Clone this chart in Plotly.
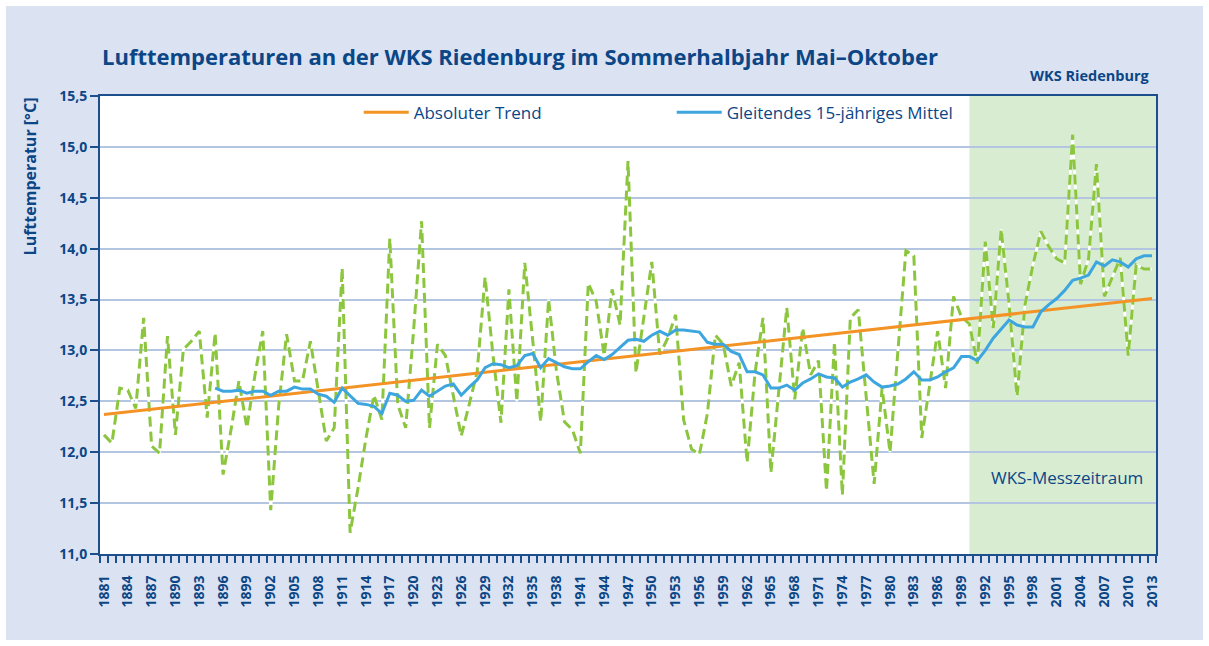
import plotly.graph_objects as go

# Jahreswerte Sommerhalbjahr (Mai–Oktober), Lufttemperatur in °C
years = list(range(1881, 2014))
jahreswerte = [
    12.17, 12.09, 12.63, 12.61, 12.43, 13.32, 12.06, 11.99, 13.14, 12.17,  # 1881-1890
    13.01, 13.09, 13.19, 12.34, 13.17, 11.78, 12.22, 12.70, 12.24, 12.75,  # 1891-1900
    13.19, 11.43, 12.45, 13.16, 12.70, 12.70, 13.09, 12.60, 12.11, 12.24,  # 1901-1910
    13.81, 11.21, 11.65, 12.14, 12.56, 12.32, 14.10, 12.47, 12.24, 13.20,  # 1911-1920
    14.27, 12.24, 13.06, 12.95, 12.56, 12.16, 12.47, 12.79, 13.72, 12.95,  # 1921-1930
    12.29, 13.60, 12.50, 13.86, 13.10, 12.30, 13.50, 12.79, 12.30, 12.22,  # 1931-1940
    11.99, 13.66, 13.48, 12.95, 13.60, 13.25, 14.86, 12.78, 13.33, 13.87,  # 1941-1950
    12.96, 13.12, 13.35, 12.32, 12.03, 11.98, 12.38, 13.15, 13.06, 12.65,  # 1951-1960
    12.88, 11.90, 12.78, 13.32, 11.80, 12.65, 13.42, 12.52, 13.22, 12.76,  # 1961-1970
    12.90, 11.62, 13.08, 11.58, 13.32, 13.40, 12.53, 11.69, 12.63, 12.00,  # 1971-1980
    13.00, 13.98, 13.93, 12.14, 12.66, 13.19, 12.63, 13.53, 13.33, 13.26,  # 1981-1990
    12.87, 14.07, 13.22, 14.19, 13.45, 12.55, 13.45, 13.84, 14.17, 14.02,  # 1991-2000
    13.90, 13.86, 15.12, 13.65, 13.90, 14.83, 13.53, 13.73, 13.91, 12.95,  # 2001-2010
    13.84, 13.80, 13.80,                                                    # 2011-2013
]

# Gleitendes 15-jähriges Mittel (ab 1895)
mittel_years = list(range(1895, 2014))
mittel15 = [
    12.63, 12.60, 12.60, 12.61, 12.58, 12.60,                              # 1895-1900
    12.60, 12.56, 12.60, 12.60, 12.64, 12.62, 12.62, 12.57, 12.55, 12.49,  # 1901-1910
    12.63, 12.55, 12.48, 12.47, 12.45, 12.38, 12.58, 12.56, 12.50, 12.51,  # 1911-1920
    12.61, 12.55, 12.60, 12.65, 12.67, 12.56, 12.64, 12.71, 12.83, 12.87,  # 1921-1930
    12.86, 12.83, 12.85, 12.95, 12.97, 12.83, 12.92, 12.88, 12.84, 12.82,  # 1931-1940
    12.82, 12.89, 12.95, 12.91, 12.96, 13.03, 13.10, 13.11, 13.09, 13.15,  # 1941-1950
    13.19, 13.15, 13.20, 13.20, 13.19, 13.18, 13.08, 13.06, 13.06, 12.99,  # 1951-1960
    12.96, 12.79, 12.79, 12.76, 12.63, 12.63, 12.66, 12.61, 12.68, 12.72,  # 1961-1970
    12.77, 12.74, 12.73, 12.64, 12.69, 12.72, 12.76, 12.69, 12.64, 12.65,  # 1971-1980
    12.67, 12.72, 12.79, 12.71, 12.71, 12.74, 12.79, 12.83, 12.94, 12.94,  # 1981-1990
    12.90, 13.00, 13.12, 13.21, 13.30, 13.25, 13.23, 13.23, 13.38, 13.45,  # 1991-2000
    13.51, 13.59, 13.69, 13.71, 13.74, 13.87, 13.83, 13.89, 13.87, 13.82,  # 2001-2010
    13.90, 13.93, 13.93,                                                    # 2011-2013
]

# Absoluter Trend: Anfangs- und Endwert
trend_years = [1881, 2013]
trend_values = [12.37, 13.51]

# Beginn des WKS-Messzeitraums
mess_start = 1990
mess_end = 2013.5

y_ticks = [11.0, 11.5, 12.0, 12.5, 13.0, 13.5, 14.0, 14.5, 15.0, 15.5]
x_ticks = list(range(1881, 2014, 3))

DARK = "#0b4686"
AXIS = "#1d4f8c"
PANEL = "#dbe2f1"
GRID = "#b3c5e1"
FONT = "Open Sans"

fig = go.Figure()

# weiße Unterlage, damit die Strichlücken im grünen Bereich hell erscheinen
fig.add_trace(go.Scatter(
    x=years, y=jahreswerte, mode="lines",
    line=dict(color="white", width=2.6),
    showlegend=False, hoverinfo="skip",
))
fig.add_trace(go.Scatter(
    x=years, y=jahreswerte, mode="lines", name="Jahreswerte",
    line=dict(color="#8cc63f", width=3, dash="10px,5px"),
    showlegend=False,
))
fig.add_trace(go.Scatter(
    x=trend_years, y=trend_values, mode="lines", name="Absoluter Trend",
    line=dict(color="#f39325", width=3),
))
fig.add_trace(go.Scatter(
    x=mittel_years, y=mittel15, mode="lines", name="Gleitendes 15-jähriges Mittel",
    line=dict(color="#3ea6de", width=3),
))

shapes = [
    # grün hinterlegter Messzeitraum
    dict(type="rect", xref="x", yref="paper", x0=mess_start, x1=mess_end, y0=0, y1=1,
         fillcolor="#d8ecd2", line=dict(width=0), layer="below"),
    # weißer Außenrahmen
    dict(type="rect", xref="paper", yref="paper",
         x0=-0.0919, x1=1.0474, y0=-0.1943, y1=1.2031,
         line=dict(color="white", width=6), fillcolor="rgba(0,0,0,0)", layer="below"),
]

annotations = [
    dict(text="<b>Lufttemperaturen an der WKS Riedenburg im Sommerhalbjahr Mai–Oktober</b>",
         xref="paper", yref="paper", x=0.0, y=1.087, xanchor="left", yanchor="middle",
         showarrow=False, font=dict(family=FONT, size=22, color=DARK)),
    dict(text="<b>WKS Riedenburg</b>", xref="paper", yref="paper", x=0.996, y=1.044,
         xanchor="right", yanchor="middle", showarrow=False,
         font=dict(family=FONT, size=14.5, color=DARK)),
    dict(text="<b>Lufttemperatur [°C]</b>", xref="paper", yref="paper", x=-0.066, y=1.002,
         xanchor="center", yanchor="top", textangle=-90, showarrow=False,
         font=dict(family=FONT, size=16, color=DARK)),
    dict(text="WKS-Messzeitraum", xref="paper", yref="paper", x=0.9157, y=0.166,
         xanchor="center", yanchor="middle", showarrow=False,
         font=dict(family=FONT, size=17, color=DARK)),
]

fig.update_layout(
    width=1209, height=646,
    margin=dict(l=100, r=53, t=96, b=92, pad=0),
    paper_bgcolor=PANEL, plot_bgcolor="white",
    separators=",.",
    font=dict(family=FONT, color=DARK),
    shapes=shapes, annotations=annotations,
    showlegend=True,
    legend=dict(
        orientation="h", x=0.245, y=1.003, xanchor="left", yanchor="top",
        bgcolor="rgba(0,0,0,0)", font=dict(family=FONT, size=17, color=DARK),
        entrywidth=253, entrywidthmode="pixels", itemwidth=45,
        traceorder="normal",
    ),
    xaxis=dict(
        range=[1880.5, 2013.5], tickmode="array", tickvals=x_ticks,
        ticktext=[str(v) for v in x_ticks], tickangle=-90,
        ticks="outside", ticklen=14, tickcolor="rgba(0,0,0,0)",
        tickfont=dict(family=FONT, size=14, color=DARK, weight="bold"),
        showgrid=False, zeroline=False,
        showline=True, linecolor=AXIS, linewidth=2, mirror=True,
        minor=dict(ticks="outside", tick0=1880.5, dtick=1, ticklen=7,
                   tickcolor=AXIS, tickwidth=1.5, showgrid=False),
    ),
    yaxis=dict(
        range=[11.0, 15.5], tickmode="array", tickvals=y_ticks,
        tickformat=".1f", ticks="outside", ticklen=8, tickwidth=2, tickcolor=AXIS,
        tickfont=dict(family=FONT, size=14, color=DARK, weight="bold"),
        showgrid=True, gridcolor=GRID, gridwidth=1.5, zeroline=False,
        showline=True, linecolor=AXIS, linewidth=2, mirror=True,
    ),
)

fig.write_html("out.html")
